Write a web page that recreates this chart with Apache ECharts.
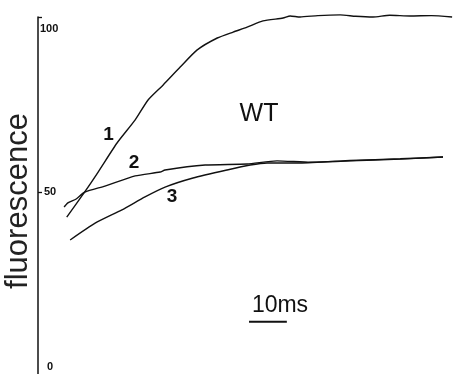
<!DOCTYPE html>
<html>
<head>
<meta charset="utf-8">
<script src="https://cdn.jsdelivr.net/npm/echarts@6/dist/echarts.min.js"></script>
<style>
  html, body { margin: 0; padding: 0; background: #fff; }
  #main { width: 454px; height: 374px; }
</style>
</head>
<body>
<div id="main"></div>
<script>
  // time (ms), fluorescence (% of max)
  const curve1 = [[7.6, 42.8], [12.4, 50.1], [15.9, 55.7], [20.9, 64.0], [25.7, 70.6], [29.1, 76.3],
    [33.1, 80.6], [37.6, 85.7], [42.1, 90.6], [47.4, 94.0], [51.6, 95.7], [55.3, 97.1], [59.5, 98.9],
    [64.8, 99.7], [66.7, 100.3], [69.3, 100.0], [74.0, 100.4], [79.9, 100.6], [84.0, 100.2],
    [88.6, 100.0], [93.0, 100.5], [98.4, 100.3], [104.0, 100.4], [109.5, 100.0]]
  const curve2 = [[6.9, 45.7], [7.9, 46.9], [10.1, 48.0], [12.4, 50.0], [17.7, 51.7], [25.7, 54.6],
    [32.3, 55.7], [33.6, 56.3], [44.2, 57.7], [55.3, 58.0], [63.2, 58.9], [72.0, 58.5], [82.5, 59.0],
    [95.8, 59.5], [107.1, 60.0]]
  const curve3 = [[8.5, 36.3], [15.1, 41.1], [22.2, 44.9], [28.3, 48.6], [33.6, 51.4], [41.0, 54.0],
    [50.0, 56.3], [56.1, 57.7], [60.6, 58.3], [69.3, 58.3], [82.5, 58.9], [95.8, 59.4], [107.1, 60.0]]
  // 10 ms scale bar
  const scaleBar = [[55.8, 12.9], [65.8, 12.9]]
  const yTicks = [0, 50, 100]

  const chart = echarts.init(document.getElementById('main'))

  const lineStyle = { color: '#111', width: 1.4 }
  function trace(name, data) {
    return {
      name: name,
      type: 'line',
      data: data,
      showSymbol: false,
      smooth: 0.2,
      clip: false,
      lineStyle: lineStyle,
      animation: false
    }
  }

  function note(text, x, y, size, bold) {
    return {
      type: 'text', x: x, y: y,
      style: {
        text: text, fontSize: size, fontWeight: bold ? 'bold' : 'normal',
        fontFamily: 'Liberation Sans', fill: '#111', align: 'center', verticalAlign: 'middle'
      }
    }
  }

  // y title drawn by hand, the axis name gets pushed inside the canvas
  const yTitle = note('fluorescence', 18, 201, 31, false)
  yTitle.rotation = Math.PI / 2
  yTitle.style.fill = '#222'

  chart.setOption({
    animation: false,
    grid: { left: 38, right: 0, top: 17, bottom: 0, outerBoundsMode: 'none' },
    xAxis: {
      type: 'value',
      min: 0,
      max: 110,
      show: false
    },
    yAxis: {
      type: 'value',
      min: -2,
      max: 100,
      splitLine: { show: false },
      axisLine: { show: true, lineStyle: { color: '#111', width: 1.5 } },
      axisTick: { show: true, inside: true, length: 4, customValues: [50, 100], lineStyle: { color: '#111', width: 1.3 } },
      axisLabel: {
        inside: true,
        margin: 2,
        customValues: yTicks,
        color: '#111',
        fontSize: 11,
        fontWeight: 'bold',
        fontFamily: 'Liberation Sans',
        formatter: function (v) {
          if (v === 100) return '{a|100}'
          if (v === 50) return '{b|50}'
          return '{c|0}'
        },
        rich: {
          a: { padding: [24, 0, 0, 0] },
          b: { padding: [0, 0, 0, 4] },
          c: { padding: [0, 0, 0, 7] }
        }
      }
    },
    graphic: [
      yTitle,
      note('WT', 259, 114, 25, false),
      note('1', 108.5, 135, 19, true),
      note('2', 134, 162.5, 19, true),
      note('3', 172, 197, 19, true),
      note('10ms', 280, 306, 23, false)
    ],
    series: [
      trace('1', curve1),
      trace('2', curve2),
      trace('3', curve3),
      {
        name: 'scale',
        type: 'line',
        data: scaleBar,
        showSymbol: false,
        lineStyle: { color: '#111', width: 2 },
        animation: false
      }
    ]
  })
</script>
</body>
</html>
